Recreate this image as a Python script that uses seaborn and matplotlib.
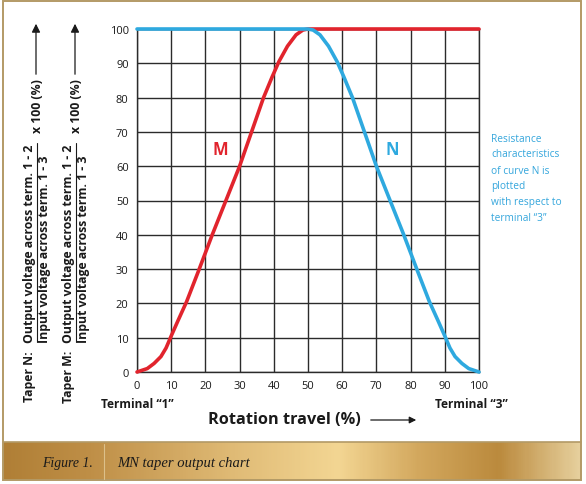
import numpy as np
import pandas as pd
import matplotlib
matplotlib.use("Agg")
import matplotlib.pyplot as plt
from matplotlib.colors import LinearSegmentedColormap
from matplotlib.patches import Rectangle, FancyArrowPatch
from matplotlib.lines import Line2D
import seaborn as sns

# ---- data ----
m_x = [0, 3, 5, 7, 8.5, 10, 12, 14.5, 18, 22, 26, 30, 33.5, 37, 39.5, 41.5, 44, 46.5, 48.5, 50, 75, 100]
m_y = [0, 1, 2.5, 4.5, 7, 10.5, 15, 20.5, 29.5, 40, 50, 60, 70, 80, 86, 90.5, 95, 98.3, 99.7, 100, 100, 100]
n_x = [0, 25, 50, 51.5, 53.5, 56, 58.5, 60.5, 63, 66.5, 70, 74, 78, 82, 85.5, 88, 90, 91.5, 93, 95, 97, 100]
n_y = [100, 100, 100, 99.7, 98.3, 95, 90.5, 86, 80, 70, 60, 50, 40, 29.5, 20.5, 15, 10.5, 7, 4.5, 2.5, 1, 0]
x_ticks = [0, 10, 20, 30, 40, 50, 60, 70, 80, 90, 100]
y_ticks = [0, 10, 20, 30, 40, 50, 60, 70, 80, 90, 100]

RED = "#e1242d"
BLUE = "#2ea9df"

sns.set_theme(style="white")
plt.rcParams['font.family'] = ['Open Sans', 'DejaVu Sans']

W, H = 586, 485
fig = plt.figure(figsize=(W / 100, H / 100), dpi=100)
fig.patch.set_facecolor("white")
renderer = fig.canvas.get_renderer()

def fx(px):
    return px / W

def fy(py):
    return 1 - py / H

def fit(t, target_px, vertical=False):
    """scale font so the text's long side spans target_px pixels"""
    bb = t.get_window_extent(renderer=renderer)
    cur = bb.height if vertical else bb.width
    t.set_fontsize(t.get_fontsize() * target_px / cur)
    return t

# ---- caption band with gold gradient ----
band = fig.add_axes([fx(3), fy(481), fx(581) - fx(3), fy(443) - fy(481)])
gold = LinearSegmentedColormap.from_list("gold", [
    (0.0, "#b07f36"), (0.15, "#bf8f47"), (0.4, "#e0bb76"), (0.58, "#f3d693"),
    (0.72, "#d3a85e"), (0.86, "#bb8a3d"), (1.0, "#e6cf9c")])
grad = np.linspace(0, 1, 300).reshape(1, -1)
band.imshow(grad, aspect="auto", cmap=gold, extent=[0, 1, 0, 1])
band.set_axis_off()
fig.add_artist(Line2D([fx(104), fx(104)], [fy(445), fy(480)], color="#dcc08a", lw=0.8))
t = fig.text(fx(42), fy(463), "Figure 1.", fontsize=10, style="italic",
             family="Liberation Serif", color="#1a1a1a", va="center", ha="left")
fit(t, 51)
t = fig.text(fx(117), fy(463), "MN taper output chart", fontsize=10, style="italic",
             family="Liberation Serif", color="#1a1a1a", va="center", ha="left")
fit(t, 133)

# frame
fig.add_artist(Rectangle((fx(3), fy(481)), fx(581) - fx(3), fy(2) - fy(481),
                         fill=False, ec="#b39a66", lw=1.4))
fig.add_artist(Line2D([fx(3), fx(581)], [fy(443), fy(443)], color="#b39a66", lw=1.2))

# ---- main chart ----
ax = fig.add_axes([fx(137), fy(373), fx(479) - fx(137), fy(30) - fy(373)])
ax.set_xlim(0, 100)
ax.set_ylim(0, 100)
ax.set_xticks(x_ticks)
ax.set_yticks(y_ticks)
ax.grid(True, color="#2b2b2b", lw=1.0)
for s in ax.spines.values():
    s.set_color("#2b2b2b")
    s.set_linewidth(1.0)
ax.tick_params(axis="both", length=0, labelsize=8, colors="#1a1a1a", pad=6)

dm = pd.DataFrame({"x": m_x, "y": m_y})
dn = pd.DataFrame({"x": n_x, "y": n_y})
sns.lineplot(data=dm, x="x", y="y", ax=ax, color=RED, lw=2.6, sort=False,
             clip_on=False, solid_capstyle="round", solid_joinstyle="round", zorder=4)
sns.lineplot(data=dn, x="x", y="y", ax=ax, color=BLUE, lw=2.6, sort=False,
             clip_on=False, solid_capstyle="round", solid_joinstyle="round", zorder=5)
ax.set_xlabel("")
ax.set_ylabel("")

ax.text(24.5, 65, "M", color=RED, fontsize=12, fontweight="bold", ha="center", va="center")
ax.text(74.5, 65, "N", color=BLUE, fontsize=12, fontweight="bold", ha="center", va="center")

# x annotations
t = fig.text(fx(137), fy(405), "Terminal \u201c1\u201d", fontsize=9, fontweight="bold",
             ha="center", va="center", color="#1a1a1a")
fit(t, 73)
t = fig.text(fx(471), fy(405), "Terminal \u201c3\u201d", fontsize=9, fontweight="bold",
             ha="center", va="center", color="#1a1a1a")
fit(t, 73)
t = fig.text(fx(284), fy(420), "Rotation travel (%)", fontsize=12.5, fontweight="bold",
             ha="center", va="center", color="#1a1a1a")
fit(t, 152)
fig.add_artist(FancyArrowPatch((fx(368), fy(421)), (fx(419), fy(421)),
                               arrowstyle="-|>,head_length=4,head_width=2",
                               mutation_scale=1, color="#1a1a1a", lw=0.9))

# blue note
note = ["Resistance", "characteristics", "of curve N is", "plotted",
        "with respect to", "terminal \u201c3\u201d"]
for i, line in enumerate(note):
    t = fig.text(fx(491), fy(139 + 16 * i), line, fontsize=7.3, color="#35a6dc",
                 ha="left", va="center")
    if i == 1:
        fit(t, 68)
        fs = t.get_fontsize()
for t in fig.texts[-6:]:
    t.set_fontsize(fs)

# left rotated y-label blocks
def ylabel_block(x_taper, x_num, x_line, x_den, x_pct, x_arrow, name):
    kw = dict(rotation=90, fontsize=8.3, fontweight="bold", color="#1a1a1a")
    t1 = fig.text(fx(x_taper), fy(377), name, ha="center", va="center", **kw)
    t2 = fig.text(fx(x_num), fy(343), "Output voltage across term. 1 - 2",
                  ha="center", va="bottom", **kw)
    fit(t2, 199, vertical=True)
    fs = t2.get_fontsize()
    t1.set_fontsize(fs)
    fig.text(fx(x_den), fy(343), "Input voltage across term. 1 - 3",
             ha="center", va="bottom", **{**kw, "fontsize": fs})
    fig.add_artist(Line2D([fx(x_line), fx(x_line)], [fy(343), fy(144)],
                          color="#1a1a1a", lw=0.8))
    fig.text(fx(x_pct), fy(106), "x 100 (%)", ha="center", va="center",
             **{**kw, "fontsize": fs})
    fig.add_artist(FancyArrowPatch((fx(x_arrow), fy(78)), (fx(x_arrow), fy(22)),
                                   arrowstyle="-|>,head_length=5,head_width=2.5",
                                   mutation_scale=1, color="#1a1a1a", lw=0.9))

ylabel_block(29.5, 29.5, 36.5, 44.5, 38, 36, "Taper N:")
ylabel_block(68.5, 68.5, 75.5, 83.5, 77, 75, "Taper M:")

fig.savefig("out.png", dpi=100)
